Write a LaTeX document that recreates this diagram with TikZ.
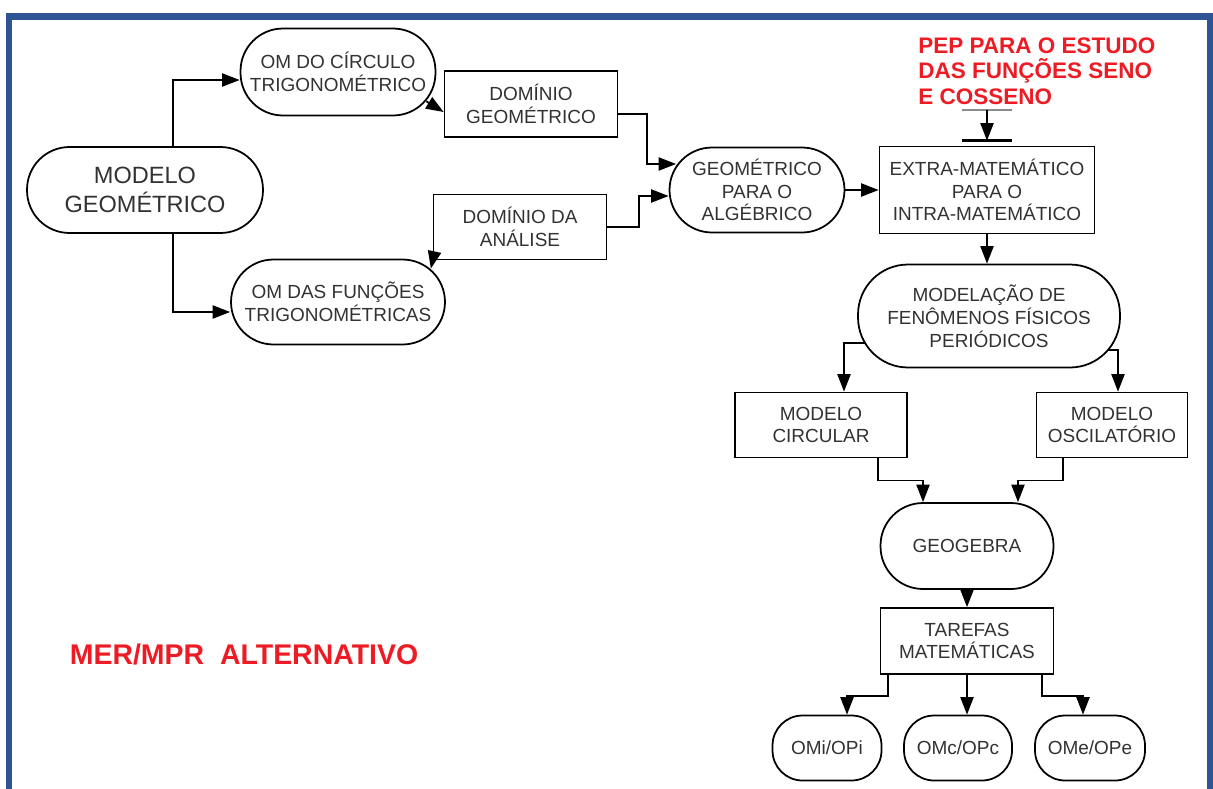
\documentclass[tikz,border=0pt]{standalone}
\usepackage{fontspec}
\setmainfont{Liberation Sans}
\usepackage{xcolor}
\usepackage{tikz}
\usetikzlibrary{arrows.meta,positioning,calc}
\definecolor{frameblue}{RGB}{47,84,150}
\definecolor{pepred}  {RGB}{237,28,36}
\definecolor{inkgray} {RGB}{50,50,50}
\tikzset{
  pill/.style ={draw, rounded corners=#1, align=center, line width=1pt,
                font=\fontsize{10.8}{13}\selectfont, text=inkgray,
                inner sep=2pt},
  pill/.default=0.85cm,
  rbox/.style ={draw, align=center, line width=1pt,
                font=\fontsize{10.8}{13}\selectfont, text=inkgray,
                inner sep=2pt},
  flow/.style ={-{Triangle[length=10pt,width=7.5pt]}, line width=1pt},
}

\begin{document}
\begin{tikzpicture}[x=0.02cm, y=-0.02cm,
  redtag/.style={text=pepred, align=left, inner sep=0pt},
]
\useasboundingbox (0,0) rectangle (1213,788);

% frame
\draw[frameblue, line width=0.14cm] (9,800) |- (1210,16) -- (1210,800);

\node[pill, minimum width=4.72cm, minimum height=1.72cm,
      font=\fontsize{13.4}{16.4}\selectfont] (modgeo) at (145,190)
  {MODELO\\GEOMÉTRICO};

\node[pill, minimum width=3.9cm, minimum height=1.74cm] (omcirc) at (338,72)
  {OM DO CÍRCULO\\TRIGONOMÉTRICO};

\node[rbox, minimum width=3.46cm, minimum height=1.32cm] (domgeo) at (531,104)
  {DOMÍNIO\\GEOMÉTRICO};

\node[pill, minimum width=3.5cm, minimum height=1.7cm] (geoalg) at (757,190)
  {GEOMÉTRICO\\PARA O\\ALGÉBRICO};

\node[rbox, minimum width=3.46cm, minimum height=1.3cm] (domana) at (520,227)
  {DOMÍNIO DA\\ANÁLISE};

\node[pill, minimum width=4.28cm, minimum height=1.7cm] (omfunc) at (338,302)
  {OM DAS FUNÇÕES\\TRIGONOMÉTRICAS};

\node[rbox, minimum width=4.3cm, minimum height=1.74cm] (extra) at (987,190)
  {EXTRA-MATEMÁTICO\\PARA O\\INTRA-MATEMÁTICO};

\node[pill=1cm, minimum width=5.24cm, minimum height=2.06cm] (modfen) at (989,316)
  {MODELAÇÃO DE\\FENÔMENOS FÍSICOS\\PERIÓDICOS};

\node[rbox, minimum width=3.44cm, minimum height=1.3cm] (modcirc) at (821,425)
  {MODELO\\CIRCULAR};
\node[rbox, minimum width=3.02cm, minimum height=1.3cm] (modosc) at (1112,425)
  {MODELO\\OSCILATÓRIO};

\node[pill, minimum width=3.46cm, minimum height=1.72cm] (ggb) at (967,546)
  {GEOGEBRA};

\node[rbox, minimum width=3.46cm, minimum height=1.32cm] (tarefas) at (967,641)
  {TAREFAS\\MATEMÁTICAS};

\node[pill=0.6cm, minimum width=2.18cm, minimum height=1.3cm] (omi) at (827,748) {OMi/OPi};
\node[pill=0.6cm, minimum width=2.16cm, minimum height=1.3cm] (omc) at (958,748) {OMc/OPc};
\node[pill=0.6cm, minimum width=2.2cm,  minimum height=1.3cm] (ome) at (1090,748) {OMe/OPe};

\node[redtag, font=\fontsize{12.8}{14.7}\selectfont\bfseries, anchor=north west]
  (pep) at (918,37) {PEP PARA O ESTUDO\\DAS FUNÇÕES SENO\\E COSSENO};

\node[redtag, font=\fontsize{16.2}{19}\selectfont\bfseries] (mer) at (244,654)
  {MER/MPR~~ALTERNATIVO};

% entry of the PEP
\coordinate (peptop) at (987,110);
\coordinate (pepstop) at ($(extra.north)+(0,-5)$);
\draw[black!45, line width=0.6pt] ($(peptop)+(-25,0)$) -- ($(peptop)+(25,0)$);
\draw[flow] (peptop) -- (pepstop);
\draw[line width=1.5pt] ($(pepstop)+(-25,0)$) -- ($(pepstop)+(25,0)$);

\draw[flow] ([xshift=0.56cm]modgeo.north) |- ([yshift=-0.16cm]omcirc.west);
\draw[flow] ([xshift=0.56cm]modgeo.south) |- ([yshift=-0.2cm]omfunc.west);
\draw[flow] ([xshift=-0.2cm,yshift=0.3cm]omcirc.south east) -- ([yshift=-0.16cm]domgeo.west);
\draw[flow] ([yshift=-0.2cm]domgeo.east) -- ++(29,0) |- ([xshift=0.15cm,yshift=0.52cm]geoalg.west);
\draw[flow] (domana.east) -- ++(32,0) |- ([yshift=-0.12cm]geoalg.west);
\draw[flow] (domana.south west) -- ([xshift=-0.3cm,yshift=-0.2cm]omfunc.north east);
\draw[flow] (geoalg.east) -- (extra.west);
\draw[flow] (extra.south) -- (extra.south |- modfen.north);

\draw[flow] ([xshift=0.15cm,yshift=-0.54cm]modfen.west) -| ([xshift=0.46cm]modcirc.north);
\draw[flow] ([xshift=-0.26cm,yshift=-0.68cm]modfen.east) -| ([xshift=0.12cm]modosc.north);
\draw[flow] ([xshift=1.14cm]modcirc.south) -- ++(0,22) -| ([xshift=-0.88cm]ggb.north);
\draw[flow] ([xshift=-0.98cm]modosc.south) -- ++(0,22) -| ([xshift=1.02cm]ggb.north);
\draw[flow] (ggb) -- (tarefas);

\draw[flow] ([xshift=-1.58cm]tarefas.south) -- ++(0,21) -| ([xshift=0.4cm]omi.north);
\draw[flow] (tarefas.south) -- (tarefas.south |- omc.north);
\draw[flow] ([xshift=1.5cm]tarefas.south) -- ++(0,21) -| ([xshift=-0.14cm]ome.north);

\end{tikzpicture}
\end{document}
